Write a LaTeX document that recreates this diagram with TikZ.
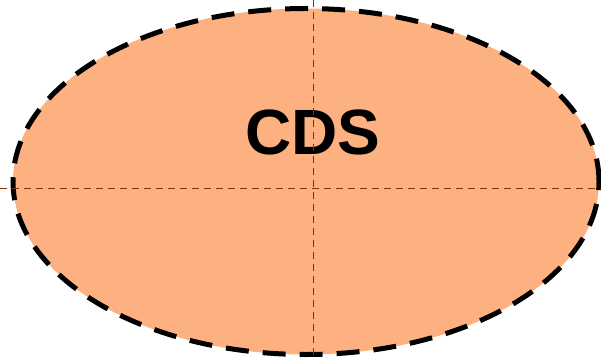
\documentclass[tikz,border=0pt]{standalone}
\usepackage{fontspec}
\setmainfont{Liberation Sans}
\usetikzlibrary{shapes.geometric}
\definecolor{peach}{RGB}{253,176,128}
\definecolor{axisbrown}{RGB}{130,50,10}
\tikzset{
  cdsshape/.style={ellipse, draw=black, fill=peach, line width=5pt,
    dash pattern=on 23pt off 14pt, minimum width=586pt, minimum height=346pt, inner sep=0pt},
  axisline/.style={draw=axisbrown, line width=1.5pt, dash pattern=on 7pt off 5pt},
  cdslabel/.style={font=\fontsize{64}{64}\selectfont\bfseries, inner sep=0pt}
}
\begin{document}
\begin{tikzpicture}[x=1pt,y=1pt]
\useasboundingbox (0,0) rectangle (601,359);
\node[cdsshape] (cds) at (306,177.5) {};
\coordinate (hl) at (0,170.5);
\coordinate (hr) at (601,170.5);
\coordinate (vt) at (313.5,359);
\coordinate (vb) at (313.5,0);
\draw[axisline] (hl) -- (hr);
\node[cdslabel] (lbl) at (313,226.5) {CDS};
\draw[axisline] (vt) -- (vb);
\end{tikzpicture}
\end{document}
